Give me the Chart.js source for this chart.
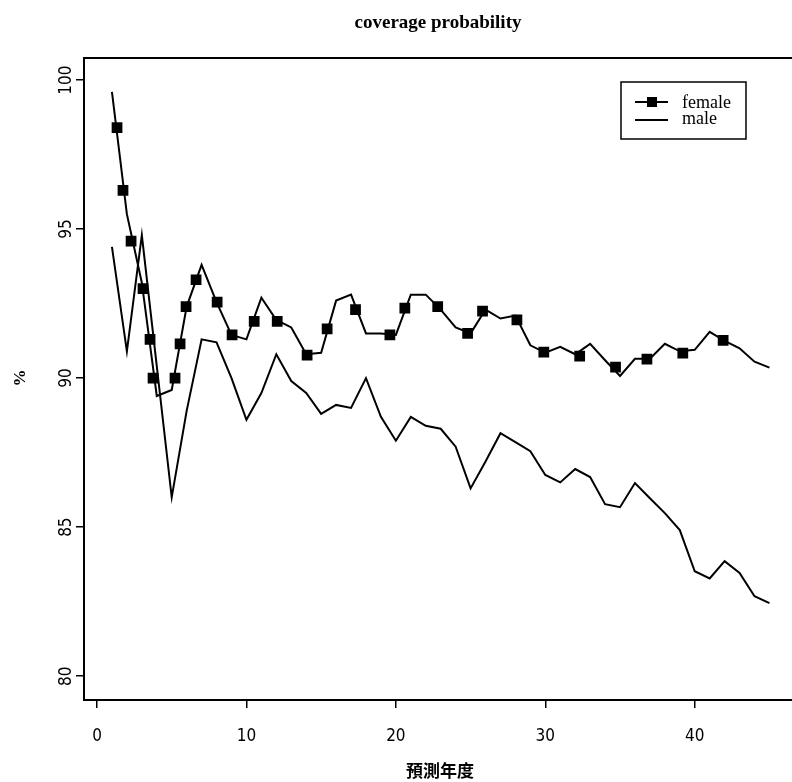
<!DOCTYPE html>
<html>
<head>
<meta charset="utf-8">
<script src="https://cdn.jsdelivr.net/npm/chart.js@4.4.1/dist/chart.umd.min.js"></script>
<style>
  html, body { margin: 0; padding: 0; background: #fff; }
  #wrap { width: 792px; height: 782px; }
</style>
</head>
<body>
<div id="wrap"><canvas id="chartCoverage" width="792" height="782"></canvas></div>
<script>
// ================================
//   DATI
// ================================
const years = [1, 2, 3, 4, 5, 6, 7, 8, 9, 10, 11, 12, 13, 14, 15, 16, 17, 18, 19, 20, 21, 22, 23,
  24, 25, 26, 27, 28, 29, 30, 31, 32, 33, 34, 35, 36, 37, 38, 39, 40, 41, 42, 43, 44, 45];

const female = [99.6, 95.5, 93.2, 89.4, 89.6, 92.4, 93.8, 92.55, 91.45, 91.3, 92.7, 91.95, 91.7,
  90.8, 90.85, 92.6, 92.8, 91.5, 91.5, 91.45, 92.8, 92.8, 92.3, 91.7, 91.5, 92.3, 92.0, 92.1,
  91.1, 90.85, 91.05, 90.8, 91.15, 90.6, 90.07, 90.65, 90.65, 91.15, 90.9, 90.95, 91.55, 91.25,
  91.0, 90.55, 90.35];

const male = [94.4, 90.9, 94.8, 90.4, 86.0, 88.9, 91.3, 91.2, 90.0, 88.6, 89.5, 90.8, 89.9, 89.5,
  88.8, 89.1, 89.0, 90.0, 88.7, 87.9, 88.7, 88.4, 88.3, 87.7, 86.3, 87.2, 88.15, 87.85, 87.55,
  86.75, 86.5, 86.95, 86.68, 85.77, 85.67, 86.48, 85.97, 85.47, 84.9, 83.52, 83.28, 83.86, 83.46,
  82.68, 82.45];

// posizioni dei quadratini sulla linea female
const markX = [1.34, 1.74, 2.28, 3.08, 3.55, 3.75, 5.22, 5.56, 5.96, 6.63, 8.04, 9.04, 10.52,
  12.06, 14.06, 15.4, 17.3, 19.6, 20.6, 22.8, 24.8, 25.8, 28.1, 29.9, 32.3, 34.7, 36.8, 39.2, 41.9];
const markY = [98.4, 96.3, 94.6, 93.0, 91.3, 90.0, 90.0, 91.15, 92.4, 93.3, 92.55, 91.45, 91.9,
  91.9, 90.77, 91.65, 92.3, 91.45, 92.35, 92.4, 91.5, 92.25, 91.95, 90.87, 90.74, 90.37, 90.64,
  90.84, 91.27];

const xTicks = [0, 10, 20, 30, 40];
const yTicks = [80, 85, 90, 95, 100];
const legendLabels = ["female", "male"];

const tickFont = "'Liberation Sans Narrow', 'DejaVu Sans Condensed', 'Liberation Sans', sans-serif";
const serifFont = "'Liberation Serif', 'DejaVu Serif', serif";

// ================================
//   PLUGIN: titolo, etichette, cornice, legenda
// ================================
const decorPlugin = {
  id: "decor",
  afterDraw(chart) {
    const ctx = chart.ctx;
    const area = chart.chartArea;
    const yScale = chart.scales.y;

    ctx.save();
    ctx.fillStyle = "#000";
    ctx.strokeStyle = "#000";

    // titolo
    ctx.font = "bold 19px " + serifFont;
    ctx.textAlign = "center";
    ctx.textBaseline = "middle";
    ctx.fillText("coverage probability", 438, 23);

    // cornice (il lato destro esce dall'immagine)
    ctx.lineWidth = 2;
    ctx.beginPath();
    ctx.moveTo(792, area.top);
    ctx.lineTo(area.left, area.top);
    ctx.lineTo(area.left, area.bottom);
    ctx.lineTo(792, area.bottom);
    ctx.stroke();

    // etichette asse y ruotate
    ctx.font = "17px " + tickFont;
    yTicks.forEach(v => {
      const py = yScale.getPixelForValue(v);
      ctx.save();
      ctx.translate(67, py);
      ctx.rotate(-Math.PI / 2);
      ctx.textAlign = "center";
      ctx.textBaseline = "middle";
      ctx.fillText(String(v), 0, 0);
      ctx.restore();
    });

    // titolo asse y
    ctx.save();
    ctx.translate(21, 378);
    ctx.rotate(-Math.PI / 2);
    ctx.font = "bold 17px " + serifFont;
    ctx.textAlign = "center";
    ctx.textBaseline = "middle";
    ctx.fillText("%", 0, 0);
    ctx.restore();

    // titolo asse x
    ctx.font = "bold 17px 'Noto Sans CJK TC', 'Noto Sans CJK SC', sans-serif";
    ctx.textAlign = "center";
    ctx.textBaseline = "middle";
    ctx.fillText("預測年度", 440, 771);

    // legenda
    ctx.lineWidth = 1.5;
    ctx.strokeRect(621, 82, 125, 57);
    ctx.lineWidth = 2;
    ctx.beginPath();
    ctx.moveTo(635, 102);
    ctx.lineTo(668, 102);
    ctx.moveTo(635, 120);
    ctx.lineTo(668, 120);
    ctx.stroke();
    ctx.fillRect(647, 97, 10, 10);
    ctx.font = "18px " + serifFont;
    ctx.textAlign = "left";
    ctx.textBaseline = "alphabetic";
    ctx.fillText(legendLabels[0], 682, 108);
    ctx.fillText(legendLabels[1], 682, 124);

    ctx.restore();
  }
};

// ================================
//   GRAFICO
// ================================
function createChart() {
  const ctx = document.getElementById("chartCoverage");

  new Chart(ctx, {
    type: "scatter",
    data: {
      datasets: [
        {
          label: legendLabels[0],
          data: years.map((x, i) => ({ x, y: female[i] })),
          showLine: true,
          borderColor: "#000",
          borderWidth: 2,
          pointRadius: 0,
          tension: 0
        },
        {
          label: legendLabels[0] + " marks",
          data: markX.map((x, i) => ({ x, y: markY[i] })),
          showLine: false,
          pointStyle: "rect",
          pointRadius: 7.6,
          backgroundColor: "#000",
          borderColor: "#000",
          borderWidth: 0
        },
        {
          label: legendLabels[1],
          data: years.map((x, i) => ({ x, y: male[i] })),
          showLine: true,
          borderColor: "#000",
          borderWidth: 2,
          pointRadius: 0,
          tension: 0
        }
      ]
    },
    options: {
      responsive: false,
      animation: false,
      events: [],
      layout: { padding: { top: 58, right: 0, left: 0, bottom: 0 } },
      plugins: {
        legend: { display: false },
        title: { display: false },
        tooltip: { enabled: false }
      },
      scales: {
        x: {
          type: "linear",
          min: -0.87,
          max: 46.0,
          afterBuildTicks: s => { s.ticks = xTicks.map(v => ({ value: v })); },
          afterFit: s => { s.height = 82; s.paddingLeft = 0; s.paddingRight = 0; },
          border: { display: false },
          grid: { drawOnChartArea: false, drawTicks: true, tickLength: 8, color: "#000", lineWidth: 1.5 },
          ticks: {
            color: "#000",
            font: { size: 17, family: tickFont },
            padding: 18,
            maxRotation: 0
          }
        },
        y: {
          type: "linear",
          min: 79.2,
          max: 100.74,
          afterBuildTicks: s => { s.ticks = yTicks.map(v => ({ value: v })); },
          afterFit: s => { s.width = 84; s.paddingTop = 0; s.paddingBottom = 0; },
          border: { display: false },
          grid: { drawOnChartArea: false, drawTicks: true, tickLength: 8, color: "#000", lineWidth: 1.5 },
          ticks: { display: false }
        }
      }
    },
    plugins: [decorPlugin]
  });
}

createChart();
</script>
</body>
</html>
